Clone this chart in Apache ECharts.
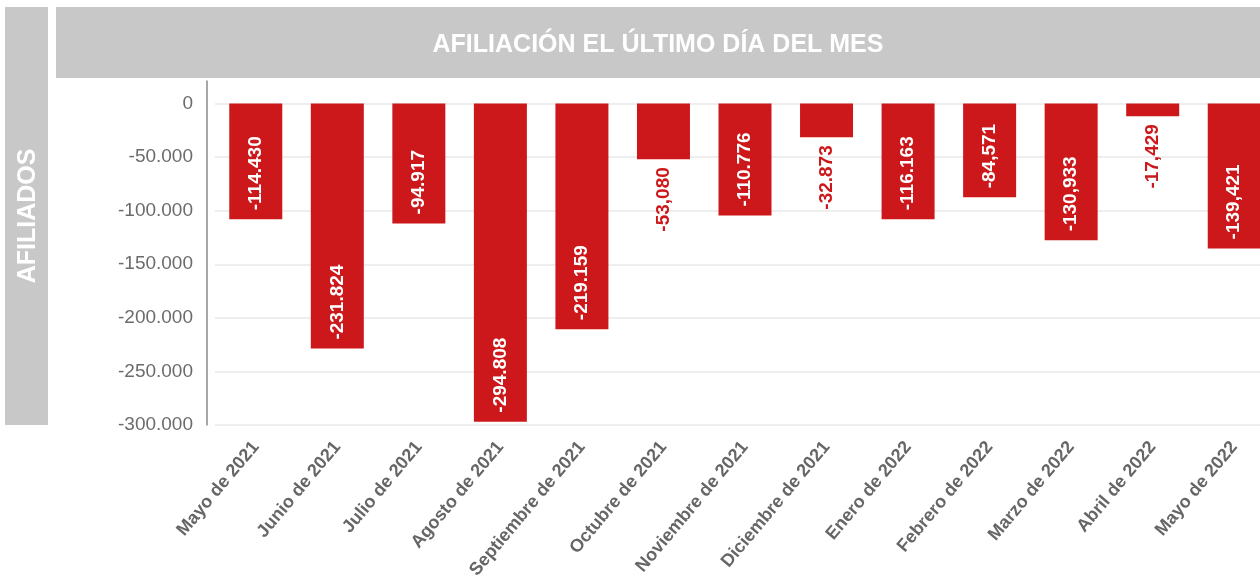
<!DOCTYPE html>
<html>
<head>
<meta charset="utf-8">
<script src="https://cdn.jsdelivr.net/npm/echarts@6/dist/echarts.min.js"></script>
<style>
  html, body { margin: 0; padding: 0; background: #fff; }
  #graph { width: 1260px; height: 584px; }
</style>
</head>
<body>
<div id="graph"></div>
<script>
const months = [
  "Mayo de 2021", "Junio de 2021", "Julio de 2021", "Agosto de 2021",
  "Septiembre de 2021", "Octubre de 2021", "Noviembre de 2021", "Diciembre de 2021",
  "Enero de 2022", "Febrero de 2022", "Marzo de 2022", "Abril de 2022", "Mayo de 2022"
];
// bar heights as drawn
const afiliados = [
  -108000, -228700, -111900, -296900, -210600, -52000, -104400,
  -31500, -108000, -87500, -127700, -11800, -135200
];
// value labels as printed on the bars
const etiquetas = [
  "-114.430", "-231.824", "-94.917", "-294.808", "-219.159", "-53,080", "-110.776",
  "-32.873", "-116.163", "-84,571", "-130,933", "-17,429", "-139,421"
];
const yTicks = [-300000, -250000, -200000, -150000, -100000, -50000, 0];

const red = "#cc181a";
const font = "'Liberation Sans', Arial, sans-serif";

function fmt(v) {
  return String(v).replace(/\B(?=(\d{3})+(?!\d))/g, ".");
}

function createOptions() {
  const barData = afiliados.map((v, i) => {
    const inside = v < -60000;
    return {
      value: v,
      label: inside ? {
        position: "insideBottom",
        distance: 9,
        align: "left",
        verticalAlign: "middle",
        color: "#fff"
      } : {
        position: "bottom",
        distance: 8,
        align: "right",
        verticalAlign: "middle",
        color: red
      }
    };
  });
  return {
    animation: false,
    graphic: [
      { type: "rect", shape: { x: 5, y: 7, width: 43, height: 418 }, style: { fill: "#c8c8c8" }, silent: true },
      { type: "rect", shape: { x: 56, y: 7, width: 1204, height: 71 }, style: { fill: "#c8c8c8" }, silent: true },
      {
        type: "text", x: 658, y: 45,
        style: { text: "AFILIACIÓN EL ÚLTIMO DÍA DEL MES", fill: "#fff", font: "bold 25px " + font, align: "center", verticalAlign: "middle" }
      },
      {
        type: "text", x: 28, y: 216, rotation: Math.PI / 2,
        style: { text: "AFILIADOS", fill: "#fff", font: "bold 25px " + font, align: "center", verticalAlign: "middle" }
      }
    ],
    grid: { left: 215, width: 1060, top: 81, height: 344, containLabel: false, outerBoundsMode: "none" },
    xAxis: {
      type: "category",
      data: months,
      position: "bottom",
      axisLine: { show: false },
      axisTick: { show: false },
      axisLabel: {
        interval: 0,
        rotate: 50,
        margin: 19,
        color: "#666",
        fontFamily: font,
        fontWeight: "bold",
        fontSize: 18
      }
    },
    yAxis: {
      type: "value",
      min: yTicks[0],
      max: 21000,
      interval: 50000,
      offset: 8,
      axisLine: { show: true, lineStyle: { color: "#8a8a8a", width: 1.5 } },
      axisTick: { show: false },
      splitLine: { show: true, showMaxLine: false, lineStyle: { color: "#e8e8e8", width: 1.5 } },
      axisLabel: {
        margin: 14,
        showMaxLabel: false,
        color: "#6b6b6b",
        fontFamily: font,
        fontSize: 19,
        formatter: (v) => yTicks.includes(v) ? fmt(v) : ""
      }
    },
    series: [{
      type: "bar",
      data: barData,
      barWidth: 53,
      itemStyle: { color: red },
      label: {
        show: true,
        rotate: 90,
        fontFamily: font,
        fontWeight: "bold",
        fontSize: 19,
        formatter: (p) => etiquetas[p.dataIndex]
      }
    }]
  };
}

const myChart = echarts.init(document.getElementById("graph"));
myChart.setOption(createOptions());
</script>
</body>
</html>
